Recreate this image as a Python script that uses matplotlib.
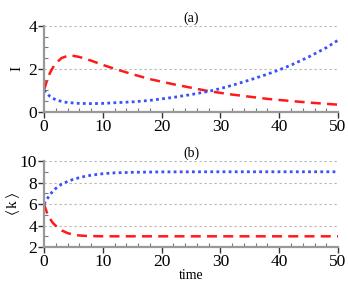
import matplotlib
matplotlib.use("Agg")
import matplotlib.pyplot as plt
from matplotlib.ticker import MultipleLocator

plt.rcParams['font.family'] = ['Liberation Serif', 'DejaVu Serif']
plt.rcParams['mathtext.fontset'] = 'stix'

# (a) infected fraction I(t)
t_a = [0, 0.5, 1, 1.5, 2, 3, 4, 5, 6, 8, 10, 12, 15, 18, 20, 22, 25, 28, 30, 32, 35, 38, 40, 42, 45, 48, 50]
I_red = [1.0, 1.45, 1.8, 2.05, 2.25, 2.5, 2.6, 2.6, 2.55, 2.38, 2.18, 2.0, 1.75, 1.52, 1.4, 1.28, 1.12, 0.96, 0.88, 0.8, 0.7, 0.6, 0.55, 0.5, 0.43, 0.37, 0.33]
I_blue = [1.0, 0.85, 0.72, 0.63, 0.56, 0.48, 0.43, 0.41, 0.39, 0.38, 0.39, 0.42, 0.46, 0.53, 0.6, 0.67, 0.8, 0.95, 1.08, 1.23, 1.48, 1.75, 1.95, 2.17, 2.55, 2.98, 3.33]

# (b) mean degree <k>(t)
t_b = [0, 0.5, 1, 1.5, 2, 3, 4, 5, 6, 7, 8, 10, 12, 15, 20, 30, 40, 50]
k_red = [6.0, 5.2, 4.65, 4.25, 3.98, 3.55, 3.3, 3.16, 3.08, 3.04, 3.02, 3.0, 3.0, 3.0, 3.0, 3.0, 3.0, 3.0]
k_blue = [6.0, 6.45, 6.85, 7.2, 7.45, 7.85, 8.1, 8.3, 8.45, 8.58, 8.68, 8.82, 8.9, 8.95, 8.99, 9.0, 9.0, 9.0]

fig = plt.figure(figsize=(3.48, 2.83), dpi=100)
ax1 = fig.add_axes([0.1264, 0.605, 0.845, 0.304])
ax2 = fig.add_axes([0.1264, 0.127, 0.845, 0.304])

red = '#ff1a1a'
blue = '#3a4fff'

ax1.plot(t_a, I_red, color=red, linestyle=(0, (4, 2.5)), lw=1.8)
ax1.plot(t_a, I_blue, color=blue, linestyle=(0, (1, 1.2)), lw=2)
ax2.plot(t_b, k_red, color=red, linestyle=(0, (4, 2.5)), lw=1.8)
ax2.plot(t_b, k_blue, color=blue, linestyle=(0, (1, 1.2)), lw=2)

for ax, ylim, ymaj, ymin in [(ax1, (0, 4), 2, 0.5), (ax2, (2, 10), 2, 1)]:
    ax.set_xlim(0, 50)
    ax.set_ylim(*ylim)
    ax.xaxis.set_major_locator(MultipleLocator(10))
    ax.xaxis.set_minor_locator(MultipleLocator(2))
    ax.yaxis.set_major_locator(MultipleLocator(ymaj))
    ax.yaxis.set_minor_locator(MultipleLocator(ymin))
    for s in ['top', 'right']:
        ax.spines[s].set_visible(False)
    for s in ['left', 'bottom']:
        ax.spines[s].set_color('#999999')
        ax.spines[s].set_linewidth(1.6)
    ax.tick_params(which='major', direction='out', length=4, width=1, color='#333333',
                   labelsize=12.5, pad=1)
    ax.tick_params(which='minor', direction='in', length=3, width=0.8, color='#777777')
    ax.grid(axis='y', which='major', color='#b5b5b5', linestyle=(0, (2, 2.5)), lw=0.8)
    ax.set_axisbelow(True)

ax1.set_title('(a)', fontsize=10, pad=3)
ax2.set_title('(b)', fontsize=10, pad=3)
ax1.set_ylabel('I', fontsize=11, va='center')
ax1.yaxis.set_label_coords(-0.092, 0.5)
ax2.set_ylabel(r'$\langle\,$k$\,\rangle$', fontsize=11, va='center')
ax2.yaxis.set_label_coords(-0.107, 0.5)
ax2.set_xlabel('time', fontsize=10, labelpad=-1)

fig.savefig('out.png', dpi=100)
